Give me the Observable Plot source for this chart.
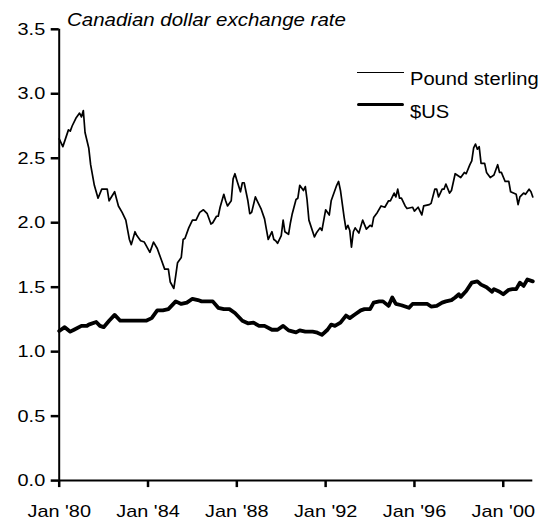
<!DOCTYPE html>
<html><head><meta charset="utf-8">
<script src="https://cdn.jsdelivr.net/npm/d3@7"></script>
<script src="https://cdn.jsdelivr.net/npm/@observablehq/plot@0.6"></script>
<style>
body{margin:0;background:#fff;font-family:"Liberation Sans",Arial,sans-serif;color:#000}
#wrap{position:relative;width:542px;height:525px}
#title{height:20px;box-sizing:border-box;padding-top:10px;line-height:20px;font-size:17.5px;font-style:italic;white-space:nowrap}
#title span{display:inline-block;transform:scaleX(1.17);transform-origin:0 50%;margin-left:67px}
.sw{position:absolute;left:357px;width:47px;height:0}
.lt{position:absolute;left:410px;font-size:17.5px;line-height:20px;white-space:nowrap;transform:scaleX(1.15);transform-origin:0 50%}
</style></head>
<body>
<div id="wrap">
  <div id="title"><span>Canadian dollar exchange rate</span></div>
  <div id="chart"></div>
  <div class="sw" style="top:71.8px;border-top:1.8px solid #000"></div>
  <div class="lt" id="l0" style="top:69px"></div>
  <div class="sw" style="top:102.5px;border-top:3.6px solid #000;border-radius:2px"></div>
  <div class="lt" id="l1" style="top:102.2px"></div>
</div>
<script>
const seriesNames = ["Pound sterling", "$US"];

const poundDates = [
  "1980-01","1980-03","1980-06","1980-07","1980-08","1980-10","1980-12",
  "1981-01","1981-02","1981-03","1981-05","1981-06","1981-08","1981-10","1981-12",
  "1982-03","1982-04","1982-07","1982-09","1982-11",
  "1983-01","1983-02","1983-03","1983-04","1983-06","1983-07","1983-09","1983-11",
  "1984-02","1984-04","1984-06","1984-08","1984-10","1984-12",
  "1985-01","1985-03","1985-04","1985-05","1985-07","1985-08","1985-09","1985-11",
  "1986-01","1986-03","1986-05","1986-07","1986-09","1986-11","1986-12",
  "1987-02","1987-03","1987-04","1987-06","1987-07","1987-08","1987-10","1987-11","1987-12",
  "1988-01","1988-03","1988-04","1988-05","1988-07","1988-08","1988-09","1988-11","1988-12",
  "1989-02","1989-04","1989-05","1989-06","1989-08","1989-09","1989-10","1989-11",
  "1990-01","1990-02","1990-03","1990-05","1990-06","1990-07","1990-09","1990-10","1990-11",
  "1991-01","1991-02","1991-03","1991-04","1991-07","1991-08","1991-10","1991-11",
  "1992-01","1992-03","1992-04","1992-07","1992-08","1992-09","1992-11","1992-12",
  "1993-01","1993-02","1993-03","1993-04","1993-05","1993-07","1993-09","1993-11",
  "1994-01","1994-02","1994-03","1994-05","1994-07","1994-09","1994-11","1994-12",
  "1995-02","1995-03","1995-04","1995-05","1995-06","1995-08","1995-09","1995-12",
  "1996-01","1996-03","1996-05","1996-06","1996-09","1996-10","1996-12",
  "1997-01","1997-02","1997-04","1997-05","1997-06","1997-08","1997-09","1997-11",
  "1998-01","1998-02","1998-04","1998-05","1998-07","1998-08","1998-09","1998-10","1998-11","1998-12",
  "1999-01","1999-03","1999-04","1999-06","1999-08","1999-10","1999-11","1999-12",
  "2000-02","2000-04","2000-05","2000-08","2000-09","2000-10","2000-12",
  "2001-01","2001-03","2001-04","2001-05"
];
const poundValues = [
  2.65,2.59,2.72,2.71,2.75,2.81,2.85,
  2.82,2.87,2.70,2.58,2.45,2.29,2.19,2.26,
  2.26,2.17,2.24,2.13,2.08,
  2.02,1.94,1.87,1.83,1.93,1.90,1.86,1.85,
  1.77,1.85,1.80,1.72,1.64,1.64,
  1.54,1.49,1.59,1.69,1.73,1.87,1.88,1.96,
  2.02,2.02,2.08,2.10,2.07,1.99,2.00,
  2.05,2.05,2.12,2.22,2.17,2.13,2.17,2.34,2.38,
  2.33,2.24,2.31,2.31,2.17,2.07,2.08,2.20,2.17,
  2.11,2.03,1.95,1.87,1.93,1.87,1.86,1.84,
  1.90,2.02,1.93,1.91,2.00,2.07,2.18,2.19,2.29,
  2.25,2.28,2.18,2.02,1.89,1.92,1.96,1.94,
  2.10,2.06,2.17,2.29,2.32,2.25,2.04,1.95,
  1.98,1.94,1.81,1.93,1.96,1.92,2.02,1.95,
  1.98,1.97,2.04,2.08,2.13,2.12,2.17,2.17,
  2.23,2.20,2.26,2.19,2.19,2.13,2.11,2.12,
  2.09,2.12,2.06,2.13,2.14,2.15,2.26,
  2.26,2.20,2.26,2.26,2.30,2.23,2.25,2.38,
  2.36,2.35,2.39,2.38,2.45,2.48,2.58,2.61,2.57,2.59,
  2.46,2.46,2.39,2.35,2.37,2.45,2.39,2.39,
  2.32,2.32,2.24,2.22,2.14,2.20,2.23,
  2.22,2.26,2.24,2.20
];

const usdDates = [
  "1980-01","1980-04","1980-07","1980-09",
  "1981-01","1981-04","1981-05","1981-09","1981-11",
  "1982-01","1982-04","1982-07","1982-10",
  "1983-05","1983-12",
  "1984-03","1984-06","1984-09","1984-12",
  "1985-04","1985-07","1985-10",
  "1986-01","1986-04","1986-06","1986-12",
  "1987-03","1987-06","1987-09","1987-12",
  "1988-04","1988-07","1988-10",
  "1989-01","1989-04","1989-08","1989-11",
  "1990-02","1990-05","1990-09","1990-11",
  "1991-02","1991-06","1991-08","1991-11",
  "1992-02","1992-04","1992-06","1992-09","1992-12",
  "1993-02","1993-05","1993-08","1993-10",
  "1994-01","1994-03","1994-06","1994-08","1994-11",
  "1995-01","1995-03","1995-06","1995-10","1995-12",
  "1996-03","1996-08","1996-10",
  "1997-01","1997-04","1997-06","1997-09","1997-11",
  "1998-01","1998-02","1998-05","1998-08","1998-11",
  "1999-01","1999-04","1999-07","1999-08","1999-11",
  "2000-01","2000-04","2000-06","2000-08","2000-10","2000-12",
  "2001-02","2001-05"
];
const usdValues = [
  1.16,1.19,1.155,1.17,
  1.20,1.20,1.21,1.23,1.20,
  1.19,1.24,1.285,1.24,
  1.24,1.24,
  1.26,1.32,1.32,1.33,
  1.39,1.37,1.38,
  1.41,1.40,1.39,1.39,
  1.34,1.33,1.33,1.30,
  1.24,1.22,1.225,
  1.20,1.20,1.17,1.17,
  1.20,1.165,1.15,1.165,
  1.155,1.155,1.15,1.13,
  1.17,1.21,1.20,1.225,1.28,
  1.26,1.29,1.32,1.33,
  1.33,1.38,1.39,1.39,1.355,
  1.42,1.37,1.36,1.34,1.37,
  1.37,1.37,1.35,
  1.355,1.38,1.39,1.40,1.42,
  1.445,1.425,1.47,1.535,1.545,
  1.52,1.50,1.465,1.485,1.465,
  1.445,1.48,1.485,1.485,1.535,1.51,
  1.56,1.545
];

const yTicks = [0, 0.5, 1.0, 1.5, 2.0, 2.5, 3.0, 3.5];
const xTicks = ["1980-01", "1984-01", "1988-01", "1992-01", "1996-01", "2000-01"];
const xStart = "1980-01", xEnd = "2001-05";

const parse = d3.utcParse("%Y-%m");
const pound = poundDates.map((d, i) => ({date: parse(d), value: poundValues[i]}));
const usd = usdDates.map((d, i) => ({date: parse(d), value: usdValues[i]}));
const xTickDates = xTicks.map(parse);
const x0 = parse(xStart);

const chart = Plot.plot({
  width: 542,
  height: 505,
  marginTop: 8.8,
  marginBottom: 44.9,
  marginLeft: 58.7,
  marginRight: 9.7,
  style: {fontFamily: "'Liberation Sans', Arial, sans-serif", fontSize: "17px", background: "white", color: "black"},
  x: {type: "utc", domain: [x0, parse(xEnd)], ticks: xTickDates, tickFormat: d3.utcFormat("%b '%y"), tickSize: 7, tickPadding: 17, label: null},
  y: {domain: [0, 3.5], ticks: yTicks, tickFormat: d3.format(".1f"), tickSize: 8, tickPadding: 6, label: null},
  marks: [
    Plot.ruleY([0], {stroke: "black", strokeWidth: 2}),
    Plot.ruleX([x0], {stroke: "black", strokeWidth: 2}),
    Plot.line(pound, {x: "date", y: "value", stroke: "black", strokeWidth: 1.7}),
    Plot.line(usd, {x: "date", y: "value", stroke: "black", strokeWidth: 3.8})
  ]
});
document.getElementById("chart").appendChild(chart);

// make the library's own axis tick paths solid black and thicker
for (const g of chart.querySelectorAll('g[aria-label$="axis tick"]')) {
  g.setAttribute("stroke", "black");
  g.setAttribute("stroke-width", "2.5");
  g.setAttribute("stroke-opacity", "1");
  for (const p of g.querySelectorAll("path, line")) {
    p.setAttribute("stroke", "black");
    p.setAttribute("stroke-width", "2.5");
  }
}

// horizontally widen the axis text to match the reference's stretched type
for (const t of chart.querySelectorAll("text")) {
  const x = +t.getAttribute("x") || 0, y = +t.getAttribute("y") || 0;
  const tr = t.getAttribute("transform") || "";
  t.setAttribute("transform", `${tr} translate(${x},${y}) scale(1.17,1) translate(${-x},${-y})`);
}

document.getElementById("l0").textContent = seriesNames[0];
document.getElementById("l1").textContent = seriesNames[1];
</script>
</body></html>
